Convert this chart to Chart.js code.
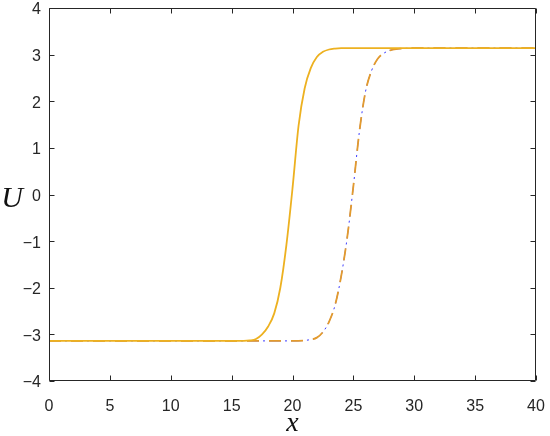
<!DOCTYPE html>
<html><head><meta charset="utf-8">
<script src="https://cdn.jsdelivr.net/npm/chart.js@4.4.1/dist/chart.umd.min.js"></script>
<style>html,body{margin:0;padding:0;background:#fff}#wrap{width:550px;height:436px;position:relative}</style>
</head><body><div id="wrap"><canvas id="c" width="550" height="436"></canvas></div>
<script>
// ---- data ----
const xTickValues = [0, 5, 10, 15, 20, 25, 30, 35, 40];
const yTickValues = [-4, -3, -2, -1, 0, 1, 2, 3, 4];
const xAxisTitle = 'x';
const yAxisTitle = 'U';

// solid kink (centred near x = 20)
const solidX = [0, 5, 10, 15, 16, 16.5, 17, 17.5, 18, 18.5, 19, 19.5, 20, 20.5, 21, 21.5, 22, 22.5, 23, 23.5, 24, 30, 35, 40];
const solidU = [-3.14, -3.14, -3.14, -3.14, -3.14, -3.13, -3.10, -3.00, -2.83, -2.55, -2.00, -1.08, 0.13, 1.48, 2.28, 2.71, 2.95, 3.06, 3.11, 3.13, 3.14, 3.14, 3.14, 3.14];

// shifted kink (centred near x = 25), drawn twice: dashed and dash-dot
const shiftedX = [0, 5, 10, 15, 20, 21, 21.5, 22, 22.5, 23, 23.5, 24, 24.5, 25, 25.5, 26, 26.5, 27, 27.5, 28, 28.5, 29, 30, 35, 40];
const shiftedU = [-3.14, -3.14, -3.14, -3.14, -3.14, -3.13, -3.11, -3.07, -2.95, -2.73, -2.37, -1.75, -0.91, 0.18, 1.36, 2.21, 2.66, 2.91, 3.03, 3.09, 3.12, 3.13, 3.14, 3.14, 3.14];

const toPts = (xs, ys) => xs.map((x, i) => ({x, y: ys[i]}));
const minus = v => String(v).replace('-', '\u2212');
const AX = '#262626';
const TICKFONT = {family: '"Liberation Sans", Arial, sans-serif', size: 16, lineHeight: 1};

const framePlugin = {
  id: 'frame',
  afterDatasetsDraw(chart) {
    const {ctx, chartArea: a, scales: {x, y}} = chart;
    const L = Math.round(a.left) + 0.5, R = Math.round(a.right) - 0.5;
    const T = Math.round(a.top) + 0.5, B = Math.round(a.bottom) - 0.5;
    ctx.save();
    ctx.strokeStyle = AX; ctx.lineWidth = 1;
    ctx.beginPath();
    ctx.rect(L, T, R - L, B - T);
    const tl = 5;
    xTickValues.forEach(v => {
      const px = Math.round(x.getPixelForValue(v)) + 0.5;
      ctx.moveTo(px, B); ctx.lineTo(px, B - tl);
      ctx.moveTo(px, T); ctx.lineTo(px, T + tl);
    });
    yTickValues.forEach(v => {
      const py = Math.round(y.getPixelForValue(v)) + 0.5;
      ctx.moveTo(L, py); ctx.lineTo(L + tl, py);
      ctx.moveTo(R, py); ctx.lineTo(R - tl, py);
    });
    ctx.stroke();
    // axis titles
    ctx.fillStyle = '#111';
    ctx.font = 'italic 28px "Liberation Serif", "DejaVu Serif", serif';
    ctx.textAlign = 'center'; ctx.textBaseline = 'alphabetic';
    ctx.fillText(xAxisTitle, (a.left + a.right) / 2, 431);
    ctx.font = 'italic 30px "Liberation Serif", "DejaVu Serif", serif';
    ctx.fillText(yAxisTitle, 12, 207);
    ctx.restore();
  }
};

new Chart(document.getElementById('c'), {
  type: 'line',
  data: {
    datasets: [
      {data: toPts(solidX, solidU), borderColor: '#EDB120', borderWidth: 1.8, pointRadius: 0, cubicInterpolationMode: 'monotone', fill: false},
      {data: toPts(shiftedX, shiftedU), borderColor: '#E49B2C', borderWidth: 1.8, borderDash: [12, 10], pointRadius: 0, cubicInterpolationMode: 'monotone', fill: false},
      {data: toPts(shiftedX, shiftedU), borderColor: '#3a3aff', borderWidth: 1, borderDash: [12, 4, 2, 4], pointRadius: 0, cubicInterpolationMode: 'monotone', fill: false}
    ]
  },
  options: {
    responsive: false, animation: false, devicePixelRatio: 1,
    layout: {padding: {left: 0, right: 14, top: 8, bottom: 0}},
    plugins: {legend: {display: false}, tooltip: {enabled: false}},
    scales: {
      x: {
        type: 'linear', min: 0, max: 40,
        afterBuildTicks: s => { s.ticks = xTickValues.map(v => ({value: v})); },
        afterFit: s => { s.height = 55; s.paddingLeft = 0; s.paddingRight = 0; },
        grid: {display: false, drawTicks: false}, border: {display: false},
        ticks: {color: AX, padding: 18, maxRotation: 0, font: TICKFONT, callback: v => minus(v)}
      },
      y: {
        type: 'linear', min: -4, max: 4,
        afterBuildTicks: s => { s.ticks = yTickValues.map(v => ({value: v})); },
        afterFit: s => { s.width = 49; s.paddingTop = 0; s.paddingBottom = 0; },
        grid: {display: false, drawTicks: false}, border: {display: false},
        ticks: {color: AX, padding: 8, labelOffset: 2, font: TICKFONT, callback: v => minus(v)}
      }
    }
  },
  plugins: [framePlugin]
});
</script>
</body></html>
